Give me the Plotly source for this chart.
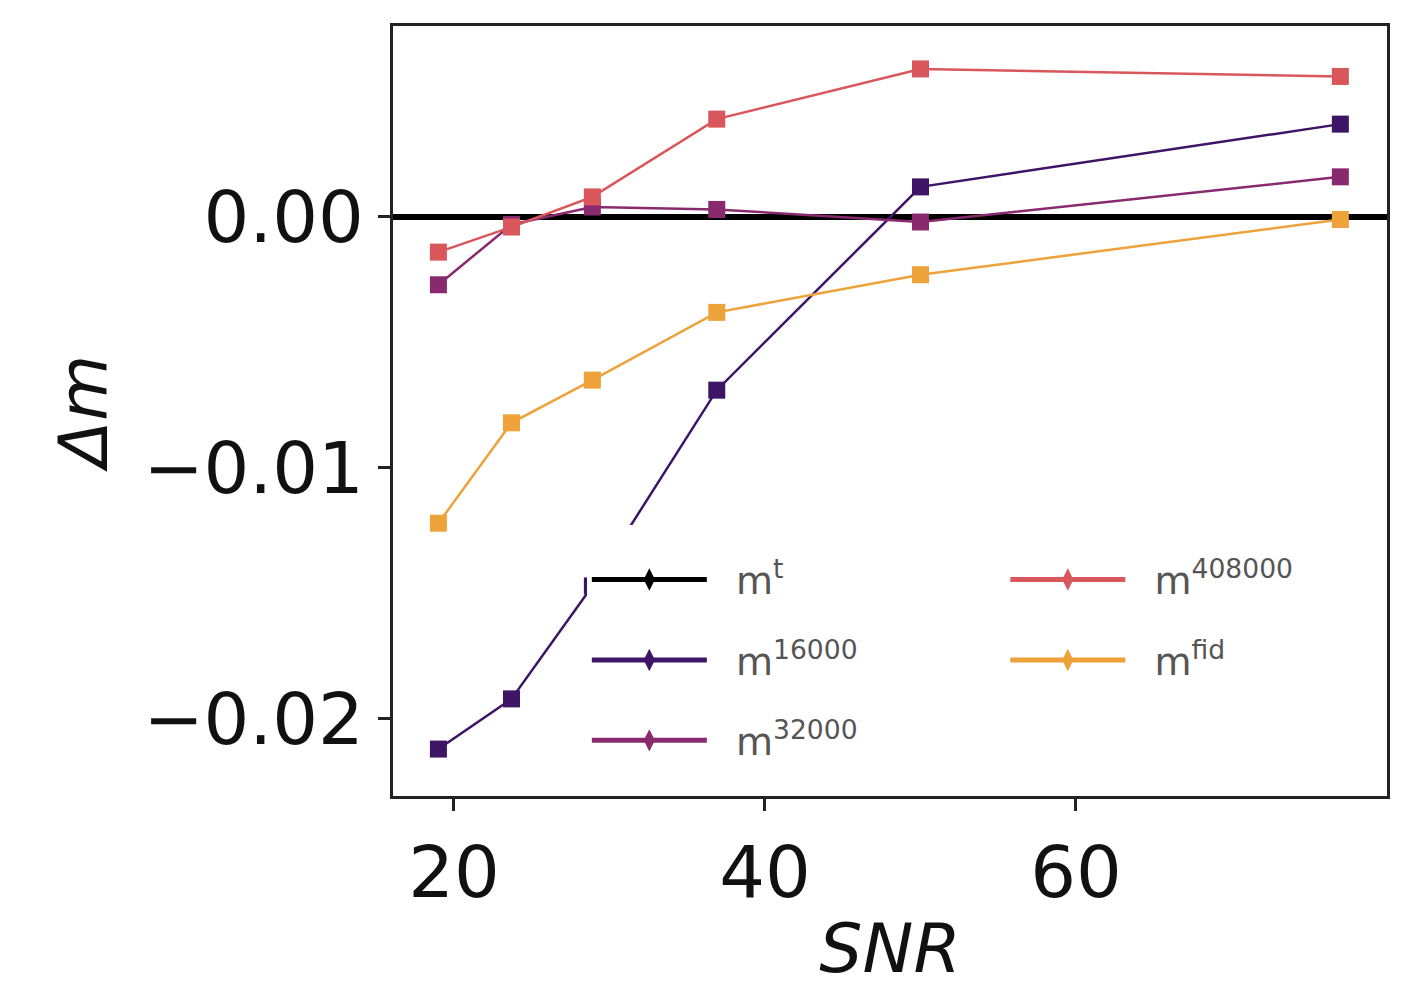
import plotly.graph_objects as go

snr = [19.0, 23.7, 28.9, 36.9, 50.0, 77.0]
names = ["m<sup>t</sup>", "m<sup>16000</sup>", "m<sup>32000</sup>", "m<sup>408000</sup>", "m<sup>fid</sup>"]
dm_t = [0.0, 0.0, 0.0, 0.0, 0.0, 0.0]
dm_16000 = [-0.0212, -0.0192, -0.0147, -0.0069, 0.0012, 0.0037]
dm_32000 = [-0.0027, -0.0003, 0.0004, 0.0003, -0.0002, 0.0016]
dm_408000 = [-0.0014, -0.0004, 0.0008, 0.0039, 0.0059, 0.0056]
dm_fid = [-0.0122, -0.0082, -0.0065, -0.0038, -0.0023, -0.0001]

series = [dm_t, dm_16000, dm_32000, dm_408000, dm_fid]
colors = ["#000000", "#3d1466", "#8a2a6e", "#d9575b", "#eda23a"]
legends = ["legend", "legend", "legend", "legend2", "legend2"]

fig = go.Figure()
fig.add_hline(y=0, line=dict(color="black", width=6), layer="below")
for i, (name, ys, c) in enumerate(zip(names, series, colors)):
    fig.add_trace(go.Scatter(x=snr, y=ys, mode="lines" if i == 0 else "lines+markers",
                             line=dict(color=c, width=6 if i == 0 else 2.5),
                             marker=dict(symbol="square", size=17, color=c),
                             showlegend=False, name=name))
# legend entries
for i, (name, c, lg) in enumerate(zip(names, colors, legends)):
    fig.add_trace(go.Scatter(x=[None], y=[None], mode="lines+markers",
                             line=dict(color=c, width=5),
                             marker=dict(symbol="diamond-tall", size=32, color=c),
                             name="&nbsp;&nbsp;" + name, legend=lg,
                             legendgroup="g%d" % i, showlegend=True))

axis_common = dict(showline=True, linecolor="#222", linewidth=2.5, mirror=True,
                   ticks="outside", ticklen=12, tickwidth=2.5, tickcolor="#222",
                   showgrid=False, zeroline=False,
                   tickfont=dict(family="DejaVu Sans", size=72, color="#111"))

leg_common = dict(yanchor="top", xanchor="left", bgcolor="white",
                  font=dict(family="DejaVu Sans", size=38, color="#555"),
                  title=dict(text="&nbsp;", font=dict(size=18)),
                  itemwidth=115, tracegroupgap=28, borderwidth=0)

fig.update_layout(
    width=1408, height=988,
    margin=dict(l=385, r=29, t=18, b=200),
    paper_bgcolor="white", plot_bgcolor="white",
    xaxis=dict(range=[16.08, 80.0], tickvals=[20, 40, 60],
               title=dict(text="<i>SNR</i>", font=dict(family="DejaVu Sans", size=68, color="#111"), standoff=12),
               **axis_common),
    yaxis=dict(range=[-0.02307, 0.00761], tickvals=[-0.02, -0.01, 0.0], tickformat=".2f",
               title=dict(text="<i>Δm</i>", font=dict(family="DejaVu Sans", size=68, color="#111"), standoff=14),
               **axis_common),
    legend=dict(x=0.195, y=0.352, **leg_common),
    legend2=dict(x=0.616, y=0.352, **leg_common),
)

fig.write_html("out.html")
